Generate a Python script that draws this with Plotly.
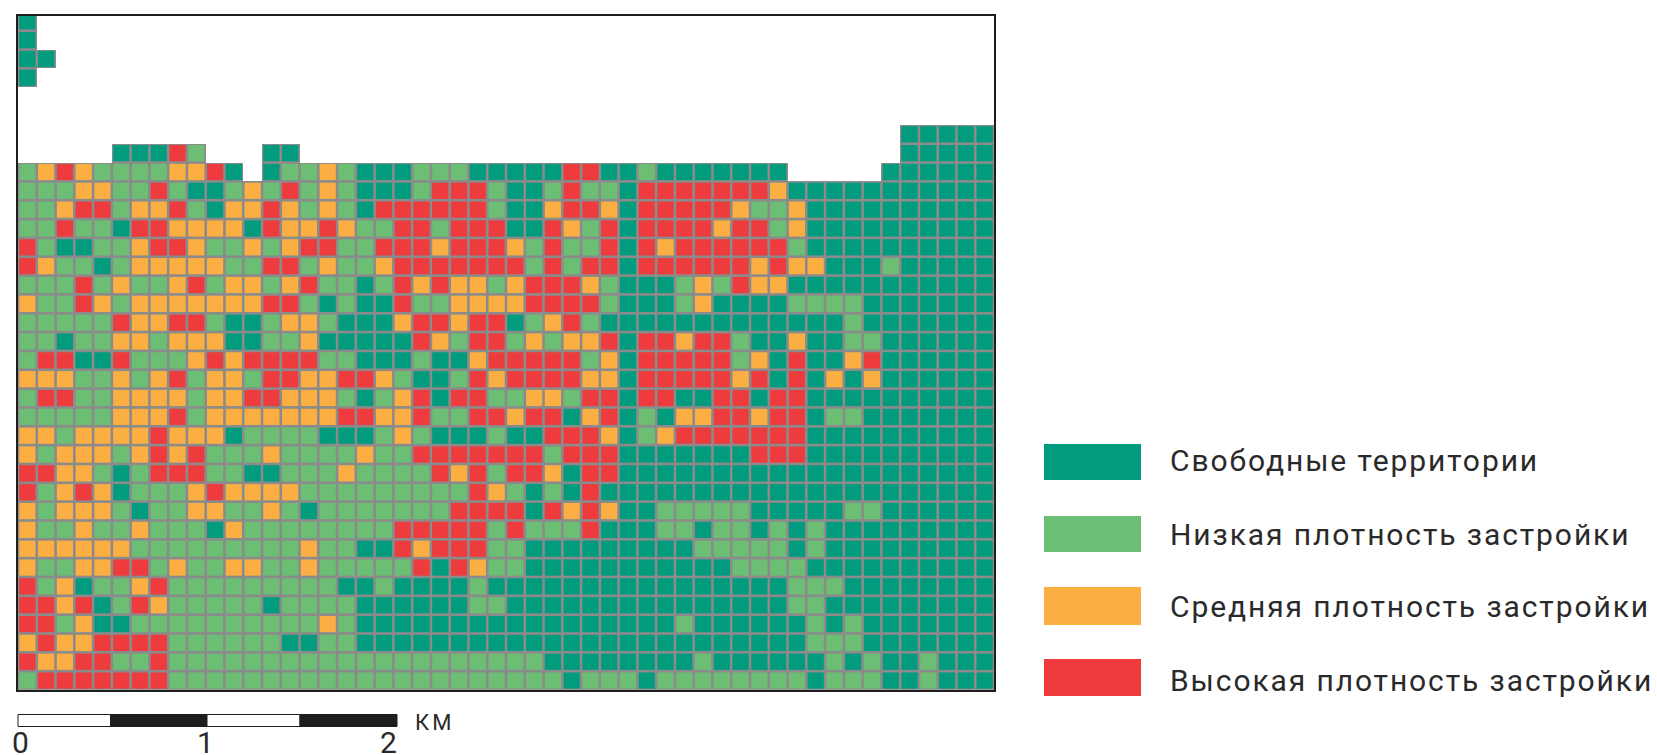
import plotly.graph_objects as go

W, H = 1657, 755
LEFT, RIGHT, TOP, BOTTOM = 18, 994, 16, 690

# F free, L low, M medium, H high density, '.' no data
F = "F"
rows = [
    "F" + "." * 51,
    "F" + "." * 51,
    "FF" + "." * 50,
    "F" + "." * 51,
    "." * 52,
    "." * 52,
    "." * 47 + "FFFFF",
    ".....FFFHL...FF" + "." * 32 + "FFFFF",
    "LMHMLLLLMMHF.FLLM" + "LFFFLLLFFFFFHHFFL" + "FFFFFFF.....FFFFFF",
    "LLLMMLLHLFFLMLHLM" + "LFFFLHHHLFFLHLLFH" + "HHHHHHM" + F * 11,
    "LLMHHLMMHLFMMHMLM" + "LFHHHHHHLFFMHHMFH" + "HHHHMLLM" + F * 10,
    "LLHLLFHHMMMMFHMMH" + "MLLHHLHHHFFHMLHFH" + "HHHMHHLM" + F * 10,
    "HLFFLLMHHMLLMLMHH" + "LLHHHMHHHMLHLLHFH" + "MHHHHHHL" + F * 10,
    "HMLLFLMMMMMLLHHLM" + "LLMHHHHHHHLHLHHFH" + "HHHHHMHMMFFFLFFFFF",
    "LLLHLMLLMHLMMLMHL" + "LFLHMHMMLMHHHMLFF" + "FLMLHMM" + F * 11,
    "MLLHMLMMMMMMMHHLF" + "LFFHLLMMMMHHHHLFF" + "FLMFFFFLLLL" + F * 7,
    "LLLLLHMMHHLFFLMML" + "FFFMHHMHHFLMHLFFF" + F * 10 + "L" + F * 7,
    "LLFLLMMLMMMFFLLMF" + "FFFFHMLHHLMLMMHFH" + "HMHHLFFMFFLL" + F * 6,
    "LHHFFHLLLMHMHHHHL" + "LFFFLFFMHHHHHLMFH" + "HHHHLMFHFFMH" + F * 6,
    "MMMLLMLMHLMMLHHMM" + "HHMLFFLHMHHHHMMFH" + "HHHHMHFHFMFM" + F * 6,
    "LHHLLMMMMLMMHHMMM" + "LFLMHFHHLLMMLHHFH" + "HFFHHFHH" + F * 10,
    "LLLLLMMMHLMMMMMMM" + "HHMMHLLHHMHHFMHFL" + "FMMHHMHHFLL" + F * 7,
    "MMLMMMMHMMMFLLLLF" + "FFLMLFFFLFFHHHMFL" + "MHHHHHHH" + F * 10,
    "MLMMMLMHMHLLLMLLL" + "LMLLHHHHHHHLHHHFF" + "FFFFFHHH" + F * 10,
    "HHMMLFLHHHLLFFLLL" + "MLLLLHMHLHHMFHHFF" + F * 18,
    "HLMHMFLLLMHMMMMLL" + "LLLLLLLHMLFLFHFFF" + F * 18,
    "MLMMMLFLLMMLLMLFL" + "LLLLLLHHHHFHMHMFF" + "LLLLLFFFFFLL" + F * 6,
    "MLLMLLMLLLFMLLLLL" + "LLLHHHHHLHLLLHFFF" + "LLFLLFLFL" + F * 9,
    "MMMMMMLLLLLLLLLML" + "LFFHMHHHLLFFFFFFF" + "FFLLLLLFL" + F * 9,
    "MLLMMHHLMLLMMLLML" + "LLLLHFHMLLFFFFFFF" + "FFFFLLLL" + F * 10,
    "HLMFLLMHLLLLLLLLL" + "FFLFFFFL" + F * 9 + F * 7 + "LLL" + F * 8,
    "HHMHFLHMLLLLLFLLL" + "LFFFFFFLL" + F * 8 + F * 7 + "LL" + F * 9,
    "HHLMFFLLLLLLLLLLM" + "L" + F * 16 + "FL" + F * 6 + "LFL" + F * 7,
    "MHMMHHHHLLLLLLFFL" + "L" + F * 16 + F * 8 + "LLL" + F * 7,
    "HMMHHLLHLLLLLLLLL" + "L" * 11 + F * 6 + "FFL" + F * 6 + "LFLFFL" + "FFF",
    "LHHHHHHHLLLLLLLLL" + "L" * 12 + "FLLLF" + "L" * 8 + "FLLLFFLFFF",
]

keys = ["F", "L", "M", "H"]
categories = ["Свободные территории", "Низкая плотность застройки",
              "Средняя плотность застройки", "Высокая плотность застройки"]
colors = ["#019B7E", "#6CBE74", "#FBAF42", "#EE3B3D"]
grid_color = "#8B8B8B"
frame_color = "#1E1E1E"
text_color = "#2A2A2A"

scale_labels = ["0", "1", "2"]
scale_unit = "КМ"

z_bg = [[None if c == "." else 1 for c in r] for r in rows]


def px(x):
    return (x - LEFT) / (RIGHT - LEFT)


def py(y):
    return (BOTTOM - y) / (BOTTOM - TOP)


fig = go.Figure()
fig.add_trace(go.Heatmap(z=z_bg, zmin=0, zmax=1, showscale=False,
                         colorscale=[[0, grid_color], [1, grid_color]],
                         hoverinfo="skip", hoverongaps=False))
for key, name, col in zip(keys, categories, colors):
    cells = [(j, i) for i, r in enumerate(rows) for j, c in enumerate(r) if c == key]
    fig.add_trace(go.Scatter(x=[c[0] for c in cells], y=[c[1] for c in cells], mode="markers",
                             name=name, showlegend=False,
                             marker=dict(symbol="square", size=16.2, color=col, line_width=0)))

shapes = []
annotations = []

# legend
legend_boxes = [(444, 480), (516, 552), (587, 625), (659, 696)]
legend_text_y = [460, 534, 606, 680]
for name, col, (y0, y1), ty in zip(categories, colors, legend_boxes, legend_text_y):
    shapes.append(dict(type="rect", xref="paper", yref="paper", x0=px(1044), x1=px(1141),
                       y0=py(y1), y1=py(y0), fillcolor=col, line_width=0))
    annotations.append(dict(xref="paper", yref="paper", x=px(1168), y=py(ty),
                            xanchor="left", yanchor="middle", showarrow=False, text=name,
                            font=dict(family="Roboto", size=30, color=text_color)))

# scale bar
bar = [(18, 110.5, "#FFFFFF"), (110.5, 207, "#1E1E1E"), (207, 300, "#FFFFFF"), (300, 397, "#1E1E1E")]
for x0, x1, col in bar:
    shapes.append(dict(type="rect", xref="paper", yref="paper", x0=px(x0), x1=px(x1),
                       y0=py(726.5), y1=py(714.5), fillcolor=col,
                       line=dict(color="#1E1E1E", width=1)))
for lab, x in zip(scale_labels, [20, 205, 388]):
    annotations.append(dict(xref="paper", yref="paper", x=px(x), y=py(743),
                            xanchor="center", yanchor="middle", showarrow=False, text=lab,
                            font=dict(family="Roboto", size=30, color=text_color)))
annotations.append(dict(xref="paper", yref="paper", x=px(413), y=py(722),
                        xanchor="left", yanchor="middle", showarrow=False, text=scale_unit,
                        font=dict(family="Roboto", size=22, color=text_color)))

axis = dict(showgrid=False, zeroline=False, showticklabels=False, ticks="",
            showline=True, mirror=True, linecolor=frame_color, linewidth=1.5)
fig.update_layout(
    width=W, height=H, autosize=False,
    margin=dict(l=LEFT, r=W - RIGHT, t=TOP, b=H - BOTTOM),
    paper_bgcolor="white", plot_bgcolor="white",
    xaxis=dict(range=[-0.5, 51.5], **axis),
    yaxis=dict(range=[35.5, -0.28], **axis),
    shapes=shapes, annotations=annotations,
)

# widen the tracking of the legend and unit labels, keeping their left edge
post = """
document.body.style.margin='0';document.body.style.overflow='hidden';
document.querySelectorAll('.annotation-text').forEach(function(t){
  var s=t.textContent, sp=null;
  if(s.indexOf('застройки')>=0||s.indexOf('территории')>=0){sp=1.9;}
  else if(s==='КМ'){sp=3;}
  if(sp===null){return;}
  var a=t.getBBox().x;
  t.style.letterSpacing=sp+'px';
  var b=t.getBBox().x;
  t.setAttribute('x',parseFloat(t.getAttribute('x'))+(a-b));
});
"""
fig.write_html("out.html", config=dict(displayModeBar=False), post_script=post)
